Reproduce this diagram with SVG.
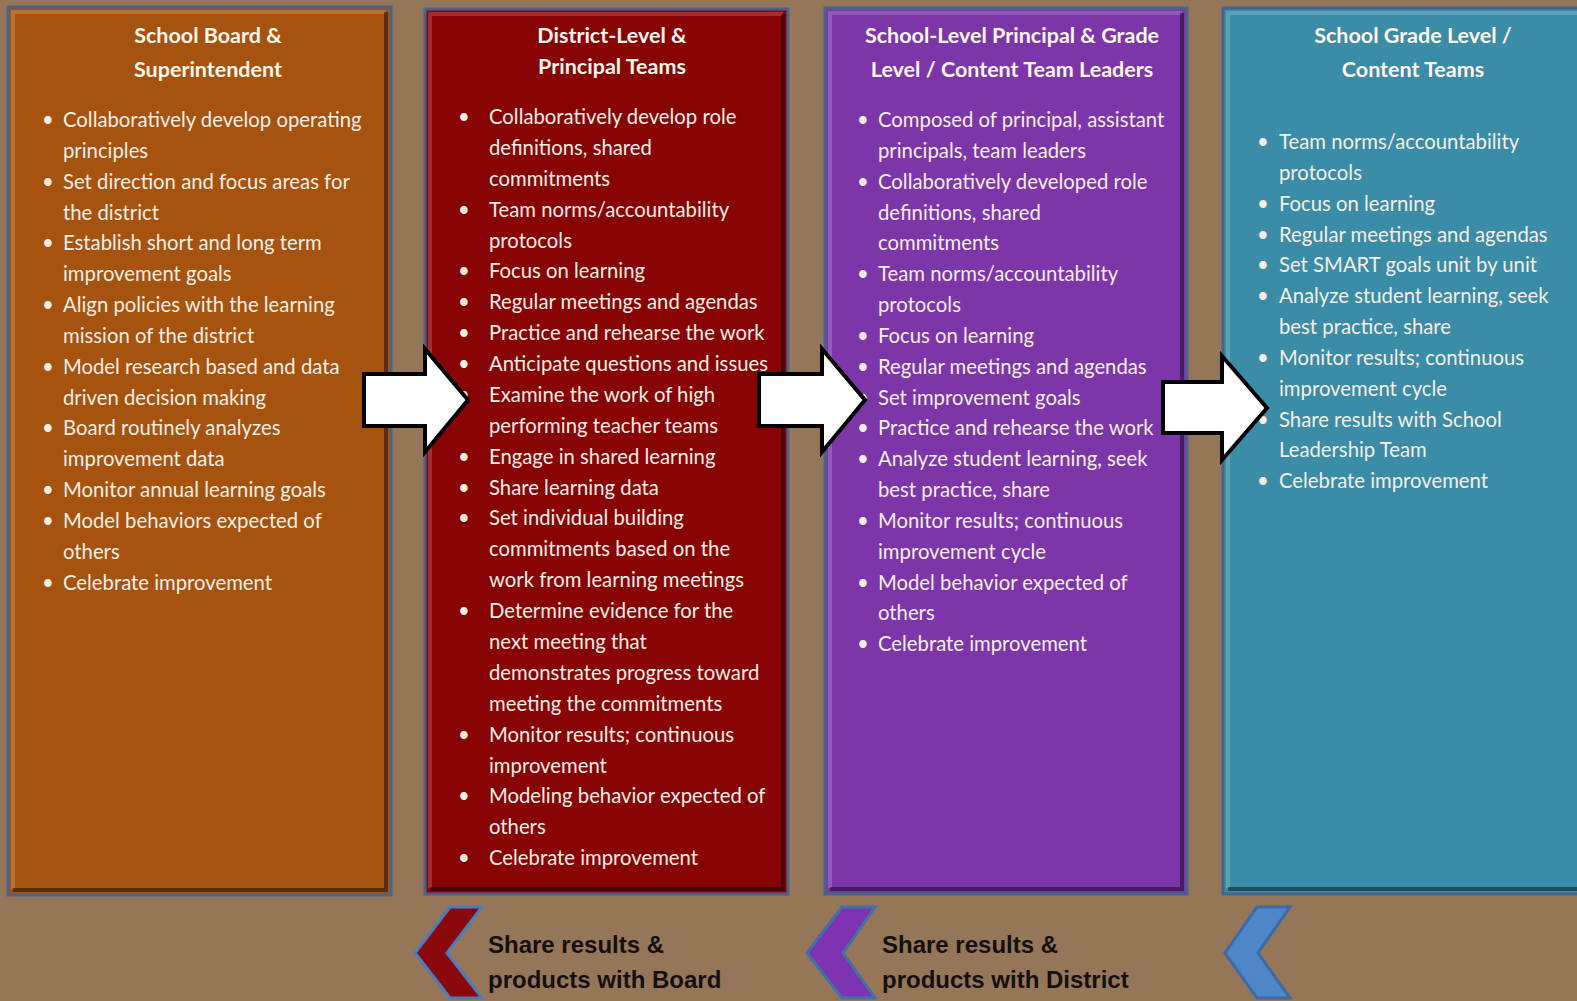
<svg xmlns="http://www.w3.org/2000/svg" width="1577" height="1001" viewBox="0 0 1577 1001">
<style>
.body{font-family:Lato,"Liberation Sans",sans-serif;font-size:20.3px;fill:#F5EEE6}
.title{font-family:Lato,"Liberation Sans",sans-serif;font-size:21.5px;font-weight:bold;fill:#FFF6EC;text-anchor:middle}
.foot{font-family:"Liberation Sans",Arial,sans-serif;font-size:24px;font-weight:bold;fill:#141010}
.box{stroke:#46658E;stroke-width:3}
.hi{fill:none;stroke:#ffffff;stroke-opacity:0.18;stroke-width:4}
.lo{fill:none;stroke:#000000;stroke-opacity:0.45;stroke-width:4}
.arrow{fill:#ffffff;stroke:#000000;stroke-width:4;stroke-linejoin:miter}
.chev{stroke-width:3;stroke-linejoin:miter}
</style>
<rect width="1577" height="1001" fill="#967659"/>

<g id="node-board">
<rect class="box" x="8" y="7" width="383" height="888" fill="#A5530F"/>
<polyline class="hi" points="13,889 13,12 386,12"/>
<polyline class="lo" points="386,12 386,890 13,890"/>
<text class="title"><tspan x="208" y="43">School Board &amp;</tspan><tspan x="208" y="77">Superintendent</tspan></text>
<text class="body">
<tspan x="42" y="127">•</tspan><tspan x="63" y="127">Collaboratively develop operating</tspan>
<tspan x="63" y="158">principles</tspan>
<tspan x="42" y="189">•</tspan><tspan x="63" y="189">Set direction and focus areas for</tspan>
<tspan x="63" y="220">the district</tspan>
<tspan x="42" y="250">•</tspan><tspan x="63" y="250">Establish short and long term</tspan>
<tspan x="63" y="281">improvement goals</tspan>
<tspan x="42" y="312">•</tspan><tspan x="63" y="312">Align policies with the learning</tspan>
<tspan x="63" y="343">mission of the district</tspan>
<tspan x="42" y="374">•</tspan><tspan x="63" y="374">Model research based and data</tspan>
<tspan x="63" y="405">driven decision making</tspan>
<tspan x="42" y="435">•</tspan><tspan x="63" y="435">Board routinely analyzes</tspan>
<tspan x="63" y="466">improvement data</tspan>
<tspan x="42" y="497">•</tspan><tspan x="63" y="497">Monitor annual learning goals</tspan>
<tspan x="42" y="528">•</tspan><tspan x="63" y="528">Model behaviors expected of</tspan>
<tspan x="63" y="559">others</tspan>
<tspan x="42" y="590">•</tspan><tspan x="63" y="590">Celebrate improvement</tspan>
</text>
</g>

<g id="node-district">
<rect class="box" x="425" y="9" width="363" height="885" fill="#880404"/>
<polyline class="hi" points="430,888 430,14 783,14"/>
<polyline class="lo" points="783,14 783,889 430,889"/>
<text class="title"><tspan x="612" y="43">District-Level &amp;</tspan><tspan x="612" y="74">Principal Teams</tspan></text>
<text class="body">
<tspan x="458" y="124">•</tspan><tspan x="489" y="124">Collaboratively develop role</tspan>
<tspan x="489" y="155">definitions, shared</tspan>
<tspan x="489" y="186">commitments</tspan>
<tspan x="458" y="217">•</tspan><tspan x="489" y="217">Team norms/accountability</tspan>
<tspan x="489" y="248">protocols</tspan>
<tspan x="458" y="278">•</tspan><tspan x="489" y="278">Focus on learning</tspan>
<tspan x="458" y="309">•</tspan><tspan x="489" y="309">Regular meetings and agendas</tspan>
<tspan x="458" y="340">•</tspan><tspan x="489" y="340">Practice and rehearse the work</tspan>
<tspan x="458" y="371">•</tspan><tspan x="489" y="371">Anticipate questions and issues</tspan>
<tspan x="458" y="402">•</tspan><tspan x="489" y="402">Examine the work of high</tspan>
<tspan x="489" y="433">performing teacher teams</tspan>
<tspan x="458" y="464">•</tspan><tspan x="489" y="464">Engage in shared learning</tspan>
<tspan x="458" y="495">•</tspan><tspan x="489" y="495">Share learning data</tspan>
<tspan x="458" y="525">•</tspan><tspan x="489" y="525">Set individual building</tspan>
<tspan x="489" y="556">commitments based on the</tspan>
<tspan x="489" y="587">work from learning meetings</tspan>
<tspan x="458" y="618">•</tspan><tspan x="489" y="618">Determine evidence for the</tspan>
<tspan x="489" y="649">next meeting that</tspan>
<tspan x="489" y="680">demonstrates progress toward</tspan>
<tspan x="489" y="711">meeting the commitments</tspan>
<tspan x="458" y="742">•</tspan><tspan x="489" y="742">Monitor results; continuous</tspan>
<tspan x="489" y="773">improvement</tspan>
<tspan x="458" y="803">•</tspan><tspan x="489" y="803">Modeling behavior expected of</tspan>
<tspan x="489" y="834">others</tspan>
<tspan x="458" y="865">•</tspan><tspan x="489" y="865">Celebrate improvement</tspan>
</text>
</g>

<g id="node-school-leaders">
<rect class="box" x="825" y="8" width="362" height="886" fill="#7D36A9"/>
<polyline class="hi" points="830,888 830,13 1182,13"/>
<polyline class="lo" points="1182,13 1182,889 830,889"/>
<text class="title"><tspan x="1012" y="43">School-Level Principal &amp; Grade</tspan><tspan x="1012" y="77">Level / Content Team Leaders</tspan></text>
<text class="body">
<tspan x="857" y="127">•</tspan><tspan x="878" y="127">Composed of principal, assistant</tspan>
<tspan x="878" y="158">principals, team leaders</tspan>
<tspan x="857" y="189">•</tspan><tspan x="878" y="189">Collaboratively developed role</tspan>
<tspan x="878" y="220">definitions, shared</tspan>
<tspan x="878" y="250">commitments</tspan>
<tspan x="857" y="281">•</tspan><tspan x="878" y="281">Team norms/accountability</tspan>
<tspan x="878" y="312">protocols</tspan>
<tspan x="857" y="343">•</tspan><tspan x="878" y="343">Focus on learning</tspan>
<tspan x="857" y="374">•</tspan><tspan x="878" y="374">Regular meetings and agendas</tspan>
<tspan x="857" y="405">•</tspan><tspan x="878" y="405">Set improvement goals</tspan>
<tspan x="857" y="435">•</tspan><tspan x="878" y="435">Practice and rehearse the work</tspan>
<tspan x="857" y="466">•</tspan><tspan x="878" y="466">Analyze student learning, seek</tspan>
<tspan x="878" y="497">best practice, share</tspan>
<tspan x="857" y="528">•</tspan><tspan x="878" y="528">Monitor results; continuous</tspan>
<tspan x="878" y="559">improvement cycle</tspan>
<tspan x="857" y="590">•</tspan><tspan x="878" y="590">Model behavior expected of</tspan>
<tspan x="878" y="620">others</tspan>
<tspan x="857" y="651">•</tspan><tspan x="878" y="651">Celebrate improvement</tspan>
</text>
</g>

<g id="node-grade-teams">
<rect class="box" x="1223" y="8" width="362" height="886" fill="#3A8CA7"/>
<polyline class="hi" points="1228,888 1228,13 1580,13"/>
<polyline class="lo" points="1580,889 1228,889"/>
<text class="title"><tspan x="1413" y="43">School Grade Level /</tspan><tspan x="1413" y="77">Content Teams</tspan></text>
<text class="body">
<tspan x="1257" y="149">•</tspan><tspan x="1279" y="149">Team norms/accountability</tspan>
<tspan x="1279" y="180">protocols</tspan>
<tspan x="1257" y="211">•</tspan><tspan x="1279" y="211">Focus on learning</tspan>
<tspan x="1257" y="242">•</tspan><tspan x="1279" y="242">Regular meetings and agendas</tspan>
<tspan x="1257" y="272">•</tspan><tspan x="1279" y="272">Set SMART goals unit by unit</tspan>
<tspan x="1257" y="303">•</tspan><tspan x="1279" y="303">Analyze student learning, seek</tspan>
<tspan x="1279" y="334">best practice, share</tspan>
<tspan x="1257" y="365">•</tspan><tspan x="1279" y="365">Monitor results; continuous</tspan>
<tspan x="1279" y="396">improvement cycle</tspan>
<tspan x="1257" y="427">•</tspan><tspan x="1279" y="427">Share results with School</tspan>
<tspan x="1279" y="457">Leadership Team</tspan>
<tspan x="1257" y="488">•</tspan><tspan x="1279" y="488">Celebrate improvement</tspan>
</text>
</g>

<g id="connectors">
<polygon class="arrow" points="364,374 425,374 425,349 468,400 425,452 425,426 364,426"/>
<polygon class="arrow" points="759,374 822,374 822,349 865,400 822,452 822,426 759,426"/>
<polygon class="arrow" points="1163,382 1222,382 1222,356 1267,408 1222,460 1222,433 1163,433"/>
<polygon class="chev" points="450,907 482,907 447,953 482,998 450,998 415,953" fill="#8A0A0C" stroke="#4B7DBE"/>
<polygon class="chev" points="842,907 875,907 843,953 875,998 842,998 807,953" fill="#7E33B0" stroke="#416FA9"/>
<polygon class="chev" points="1257,907 1290,907 1258,953 1290,998 1257,998 1225,953" fill="#4F86C8" stroke="#3A6BA6"/>
<text class="foot"><tspan x="488" y="953">Share results &amp;</tspan><tspan x="488" y="988">products with Board</tspan></text>
<text class="foot"><tspan x="882" y="953">Share results &amp;</tspan><tspan x="882" y="988">products with District</tspan></text>
</g>
</svg>
